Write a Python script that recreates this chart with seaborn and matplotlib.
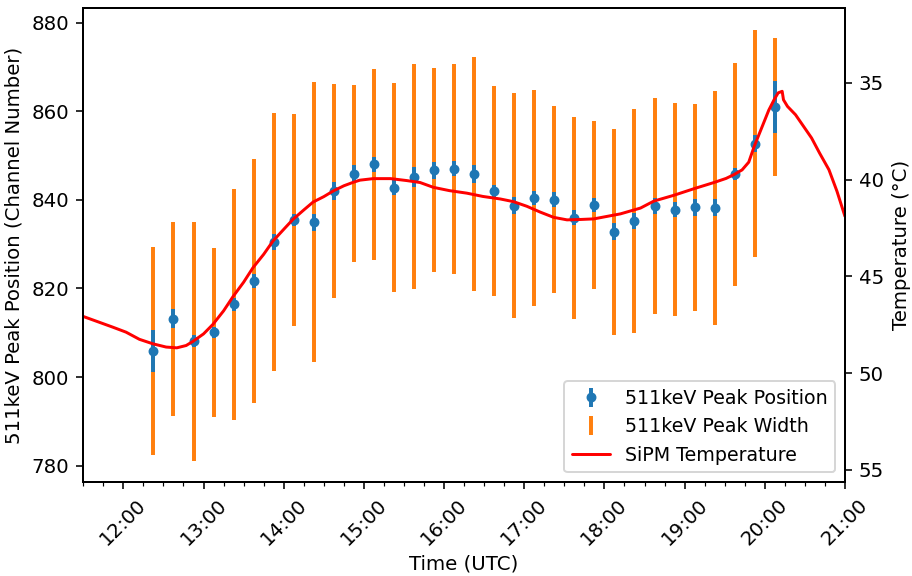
import matplotlib
matplotlib.use("Agg")
import matplotlib.pyplot as plt
import matplotlib.dates as mdates
import pandas as pd
import seaborn as sns

# Run date (only the clock time is shown on the axis)
DAY = "2020-06-01"

# 15-minute bins: centre time, fitted 511 keV peak position, its uncertainty, and peak width
bin_times = [
    "12:22:30", "12:37:30", "12:52:30", "13:07:30", "13:22:30", "13:37:30", "13:52:30", "14:07:30",
    "14:22:30", "14:37:30", "14:52:30", "15:07:30", "15:22:30", "15:37:30", "15:52:30", "16:07:30",
    "16:22:30", "16:37:30", "16:52:30", "17:07:30", "17:22:30", "17:37:30", "17:52:30", "18:07:30",
    "18:22:30", "18:37:30", "18:52:30", "19:07:30", "19:22:30", "19:37:30", "19:52:30", "20:07:30",
]
peak_position = [
    805.9, 813.2, 808.1, 810.1, 816.4, 821.7, 830.5, 835.5,
    834.9, 842.0, 845.9, 848.0, 842.7, 845.2, 846.7, 847.0,
    845.8, 841.9, 838.7, 840.4, 840.0, 836.0, 838.9, 832.8,
    835.3, 838.6, 837.8, 838.3, 838.2, 845.8, 852.7, 861.0,
]
peak_position_err = [
    4.7, 2.1, 1.4, 1.2, 1.5, 1.5, 1.9, 1.4,
    2.0, 2.1, 2.0, 1.6, 1.7, 2.3, 1.9, 1.7,
    2.0, 1.5, 1.9, 1.6, 1.7, 1.6, 1.6, 1.9,
    1.8, 1.9, 1.7, 1.9, 1.9, 1.3, 1.9, 5.8,
]
peak_width = [
    23.4, 21.9, 27.0, 19.1, 26.1, 27.5, 29.2, 23.9,
    31.6, 24.2, 20.0, 21.5, 23.6, 25.4, 23.0, 23.7,
    26.4, 23.7, 25.4, 24.3, 21.1, 22.8, 19.0, 23.3,
    25.3, 24.3, 24.1, 23.3, 26.4, 25.2, 25.7, 15.6,
]

# SiPM temperature log
temp_times = [
    "11:30", "11:42", "11:52", "12:02", "12:12", "12:22", "12:32", "12:40", "12:47", "12:52",
    "13:00", "13:07", "13:15", "13:22", "13:30", "13:37", "13:45", "13:52", "14:00", "14:07",
    "14:15", "14:22", "14:30", "14:37", "14:45", "14:52", "14:57", "15:07", "15:20", "15:32",
    "15:42", "15:52", "16:04", "16:17", "16:29", "16:42", "16:52", "17:02", "17:12", "17:22",
    "17:32", "17:42", "17:52", "18:02", "18:12", "18:27", "18:37", "18:52", "19:07", "19:22",
    "19:31", "19:37", "19:43", "19:48", "19:52", "19:58", "20:03", "20:07", "20:10", "20:13",
    "20:14", "20:17", "20:23", "20:29", "20:35", "20:41", "20:48", "20:54", "21:00",
]
sipm_temp = [
    47.07, 47.37, 47.62, 47.88, 48.25, 48.48, 48.65, 48.69, 48.57, 48.36,
    47.97, 47.48, 46.78, 46.05, 45.30, 44.55, 43.86, 43.17, 42.57, 42.05,
    41.57, 41.16, 40.88, 40.59, 40.32, 40.14, 40.03, 39.95, 39.95, 40.05,
    40.15, 40.40, 40.57, 40.70, 40.87, 41.00, 41.14, 41.38, 41.68, 41.95,
    42.08, 42.06, 42.03, 41.90, 41.77, 41.47, 41.11, 40.81, 40.47, 40.15,
    39.94, 39.74, 39.50, 39.10, 38.30, 37.27, 36.41, 35.87, 35.52, 35.44,
    35.88, 36.22, 36.65, 37.25, 37.85, 38.63, 39.49, 40.60, 41.90,
]

pos_ticks = [780, 800, 820, 840, 860, 880]
temp_ticks = [35, 40, 45, 50, 55]

sns.set_style("ticks", {
    "axes.edgecolor": "black",
    "text.color": "black",
    "axes.labelcolor": "black",
    "xtick.color": "black",
    "ytick.color": "black",
})
plt.rcParams["font.family"] = ["DejaVu Sans"]
plt.rcParams["font.size"] = 10
plt.rcParams["axes.linewidth"] = 1.0

bins = pd.DataFrame({
    "time": pd.to_datetime([f"{DAY} {t}" for t in bin_times]),
    "position": peak_position,
    "position_err": peak_position_err,
    "width": peak_width,
})
temps = pd.DataFrame({
    "time": pd.to_datetime([f"{DAY} {t}" for t in temp_times]),
    "temp": sipm_temp,
})

fig = plt.figure(figsize=(6.4, 576 / 142.5), dpi=142.5)
ax1 = fig.add_axes([0.0913, 0.1632, 0.9265 - 0.0913, 0.986 - 0.1632])

width_bars = ax1.errorbar(bins["time"], bins["position"], yerr=bins["width"], fmt="none",
                          ecolor="#ff7f0e", elinewidth=2, label="511keV Peak Width")
pos_bars = ax1.errorbar(bins["time"], bins["position"], yerr=bins["position_err"], fmt="o",
                        color="#1f77b4", ms=4, elinewidth=2, label="511keV Peak Position")

ax2 = ax1.twinx()
sns.lineplot(data=temps, x="time", y="temp", ax=ax2, color="red", linewidth=1.5,
             estimator=None, legend=False)
temp_line = ax2.lines[0]

ax1.set_xlim(pd.Timestamp(f"{DAY} 11:30"), pd.Timestamp(f"{DAY} 21:00"))
ax1.xaxis.set_major_locator(mdates.HourLocator())
ax1.xaxis.set_minor_locator(mdates.MinuteLocator(byminute=[15, 30, 45]))
ax1.xaxis.set_major_formatter(mdates.DateFormatter("%H:%M"))
for lbl in ax1.get_xticklabels():
    lbl.set_rotation(45)
    lbl.set_ha("center")

ax1.set_ylim(776.3, 883.3)
ax1.set_yticks(pos_ticks)
ax2.set_ylim(55.62, 31.14)
ax2.set_yticks(temp_ticks)

ax1.set_xlabel("Time (UTC)", labelpad=2.5)
ax1.set_ylabel("511keV Peak Position (Channel Number)")
ax2.set_ylabel("Temperature (°C)")
ax2.set_xlabel("")

for ax in (ax1, ax2):
    ax.tick_params(which="major", length=3.5, width=0.8)
    ax.tick_params(which="minor", length=2, width=0.6)
    for side in ("top", "right", "left", "bottom"):
        ax.spines[side].set_visible(True)

ax2.legend([pos_bars, width_bars, temp_line],
           ["511keV Peak Position", "511keV Peak Width", "SiPM Temperature"],
           loc="lower right", fontsize=9.6, frameon=True, framealpha=0.8,
           edgecolor="0.8", fancybox=True)

fig.savefig("out.png", dpi=142.5)
